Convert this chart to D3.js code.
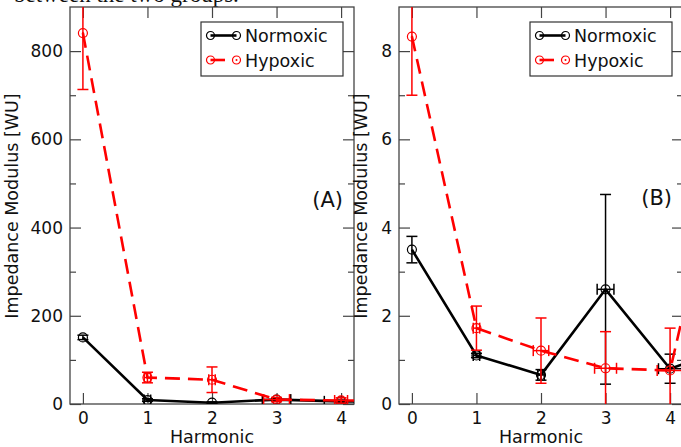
<!DOCTYPE html>
<html lang="en">
<head>
<meta charset="utf-8">
<title>Impedance modulus by harmonic</title>
<script src="https://cdn.jsdelivr.net/npm/d3@7"></script>
<style>
  body { margin: 0; background: #fff; }
  svg { display: block; }
  .tick line { stroke: #444; stroke-width: 1.2; }
  .tick text { font-family: "DejaVu Sans", sans-serif; font-size: 17px; fill: #111; }
  .lbl { font-family: "DejaVu Sans", sans-serif; fill: #111; }
</style>
</head>
<body>
<script>
// ---- data ----
var harmonics = [0, 1, 2, 3, 4, 5];

// panel A
var normA     = [151, 9, 3, 10, 6, 5];
var normAErr  = [5, 3, 2, 3, 3, 2];
var normAXErr = [0, 0.05, 0, 0.22, 0.26, 0];
var hypA      = [841, 60, 55, 10, 8, 8];
var hypAErr   = [128, 12, 29, 5, 6, 5];
var hypAXErr  = [0, 0.05, 0.05, 0.2, 0.1, 0];

// panel B
var normB     = [3.5, 1.1, 0.66, 2.6, 0.8, 1.3];
var normBErr  = [0.3, 0.05, 0.12, 2.15, 0.33, 0.2];
var normBXErr = [0, 0.05, 0.05, 0.13, 0.18, 0];
var hypB      = [8.33, 1.72, 1.21, 0.81, 0.76, 7.1];
var hypBErr   = [1.33, 0.5, 0.74, 0.83, 0.96, 0.5];
var hypBXErr  = [0, 0.05, 0.12, 0.17, 0.2, 0];

var xTicks = [0, 1, 2, 3, 4];
var yTicksA = [0, 200, 400, 600, 800];
var yMinorA = [100, 300, 500, 700];
var yTicksB = [0, 2, 4, 6, 8];
var yMinorB = [1, 3, 5, 7];
var seriesNames = ["Normoxic", "Hypoxic"];

var w = 681, h = 447;
var svg = d3.select("body").append("svg").attr("width", w).attr("height", h);

// caption text cut off at the top of the crop
svg.append("text")
    .attr("x", 14).attr("y", 2)
    .attr("font-family", "Liberation Serif, serif")
    .attr("font-size", 23)
    .attr("fill", "#111")
    .text("between the two groups.");

function drawPanel(p) {
    var x = d3.scaleLinear().domain([-0.2, 4.2]).range([p.left, p.right]);
    var y = d3.scaleLinear().domain(p.yDomain).range([404, 7]);
    var g = svg.append("g");

    // axes, ticks inside
    g.append("g").attr("transform", "translate(0,404)")
        .call(d3.axisBottom(x).tickValues(xTicks).tickSize(-11).tickPadding(8).tickFormat(d3.format("d")));
    g.append("g").attr("transform", "translate(0,7)")
        .call(d3.axisTop(x).tickValues(xTicks).tickSize(-11).tickFormat(""));
    g.append("g").attr("transform", "translate(" + p.left + ",0)")
        .call(d3.axisLeft(y).tickValues(p.yTicks).tickSize(-11).tickPadding(7).tickFormat(d3.format("d")));
    g.append("g").attr("transform", "translate(" + p.left + ",0)")
        .call(d3.axisLeft(y).tickValues(p.yMinor).tickSize(-6).tickFormat(""));
    g.append("g").attr("transform", "translate(" + p.right + ",0)")
        .call(d3.axisRight(y).tickValues(p.yTicks).tickSize(-11).tickFormat(""));
    g.append("g").attr("transform", "translate(" + p.right + ",0)")
        .call(d3.axisRight(y).tickValues(p.yMinor).tickSize(-6).tickFormat(""));
    g.selectAll(".domain").remove();

    // frame
    g.append("rect")
        .attr("x", p.left).attr("y", 7)
        .attr("width", p.right - p.left).attr("height", 397)
        .attr("fill", "none").attr("stroke", "#444").attr("stroke-width", 1.3);

    // clip
    svg.append("clipPath").attr("id", p.id + "clip")
        .append("rect").attr("x", p.left).attr("y", 7)
        .attr("width", p.right - p.left).attr("height", 397);
    var plot = g.append("g").attr("clip-path", "url(#" + p.id + "clip)");

    p.series.forEach(function(s) {
        var pts = harmonics.map(function(hh, i) {
            return { x: hh, y: s.values[i], e: s.err[i], xe: s.xerr[i] };
        });
        var line = d3.line().x(function(d) { return x(d.x); }).y(function(d) { return y(d.y); });
        plot.append("path").datum(pts)
            .attr("d", line)
            .attr("fill", "none")
            .attr("stroke", s.color)
            .attr("stroke-width", 2.6)
            .attr("stroke-dasharray", s.dash);

        var eb = plot.append("g").attr("stroke", s.color).attr("stroke-width", 1.5).attr("fill", "none");
        pts.forEach(function(d) {
            var cx = x(d.x);
            var y1 = y(d.y + d.e), y0 = y(d.y - d.e);
            eb.append("line").attr("x1", cx).attr("x2", cx).attr("y1", y1).attr("y2", y0);
            eb.append("line").attr("x1", cx - 5.5).attr("x2", cx + 5.5).attr("y1", y1).attr("y2", y1);
            eb.append("line").attr("x1", cx - 5.5).attr("x2", cx + 5.5).attr("y1", y0).attr("y2", y0);
            if (d.xe > 0) {
                var xa = x(d.x - d.xe), xb = x(d.x + d.xe), cy = y(d.y);
                eb.append("line").attr("x1", xa).attr("x2", xb).attr("y1", cy).attr("y2", cy);
                eb.append("line").attr("x1", xa).attr("x2", xa).attr("y1", cy - 5.5).attr("y2", cy + 5.5);
                eb.append("line").attr("x1", xb).attr("x2", xb).attr("y1", cy - 5.5).attr("y2", cy + 5.5);
            }
        });

        var mk = plot.append("g").selectAll("g").data(pts).enter().append("g")
            .attr("transform", function(d) { return "translate(" + x(d.x) + "," + y(d.y) + ")"; });
        mk.append("circle").attr("r", 4.5).attr("fill", "none").attr("stroke", s.color).attr("stroke-width", 1.2);
        if (s.dot) mk.append("circle").attr("r", 1).attr("fill", s.color);
    });

    // legend
    var lg = g.append("g").attr("transform", "translate(" + (p.right - 153) + ",22)");
    lg.append("rect").attr("width", 142).attr("height", 54)
        .attr("fill", "#fff").attr("stroke", "#333").attr("stroke-width", 1.2);
    p.series.forEach(function(s, i) {
        var ly = 13.5 + i * 24.5;
        var row = lg.append("g").attr("transform", "translate(0," + ly + ")");
        row.append("line").attr("x1", 9.5).attr("x2", s.dash ? 24 : 35.5).attr("y1", 0).attr("y2", 0)
            .attr("stroke", s.color).attr("stroke-width", 2.6);
        [9.5, 35.5].forEach(function(cx, k) {
            row.append("circle").attr("cx", cx).attr("r", 4).attr("fill", "none")
                .attr("stroke", s.color).attr("stroke-width", 1.2);
            if (s.dot && k == 1) row.append("circle").attr("cx", cx).attr("r", 1).attr("fill", s.color);
        });
        row.append("text").attr("class", "lbl").attr("x", 44).attr("y", 6.5)
            .attr("font-size", 17.5).text(seriesNames[i]);
    });

    // panel tag
    g.append("text").attr("class", "lbl")
        .attr("x", p.right - 11).attr("y", p.tagY)
        .attr("text-anchor", "end").attr("font-size", 21)
        .text(p.tag);

    // axis titles
    g.append("text").attr("class", "lbl")
        .attr("x", (p.left + p.right) / 2).attr("y", 443)
        .attr("text-anchor", "middle").attr("font-size", 17.5)
        .text("Harmonic");
    g.append("text").attr("class", "lbl")
        .attr("transform", "translate(" + p.ylabX + ",206) rotate(-90)")
        .attr("text-anchor", "middle").attr("font-size", 17.5)
        .text("Impedance Modulus [WU]");
}

drawPanel({
    id: "a", left: 70, right: 354, yDomain: [0, 900],
    yTicks: yTicksA, yMinor: yMinorA, tag: "(A)", tagY: 207, ylabX: 18,
    series: [
        { values: normA, err: normAErr, xerr: normAXErr, color: "#000", dash: null, dot: false },
        { values: hypA, err: hypAErr, xerr: hypAXErr, color: "#ff0000", dash: "15,8", dot: true }
    ]
});
drawPanel({
    id: "b", left: 399, right: 683, yDomain: [0, 9],
    yTicks: yTicksB, yMinor: yMinorB, tag: "(B)", tagY: 205, ylabX: 367,
    series: [
        { values: normB, err: normBErr, xerr: normBXErr, color: "#000", dash: null, dot: false },
        { values: hypB, err: hypBErr, xerr: hypBXErr, color: "#ff0000", dash: "15,8", dot: true }
    ]
});
</script>
</body>
</html>
